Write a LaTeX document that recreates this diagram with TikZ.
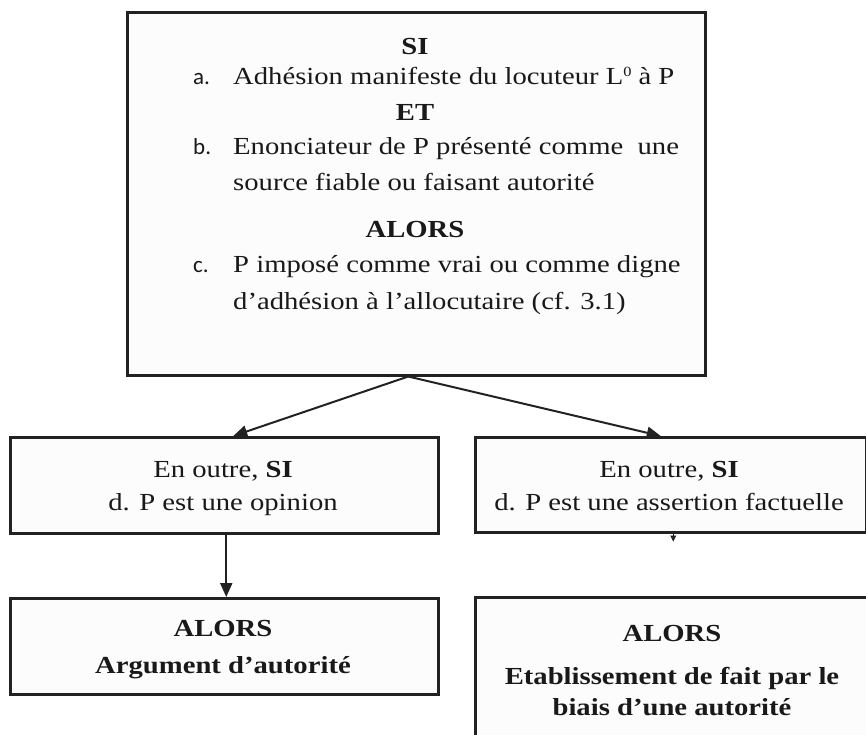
\documentclass[tikz,border=0pt]{standalone}
\usepackage{fontspec}
\setmainfont{Liberation Serif}[FakeStretch=1.17]
\newfontfamily\labfont{Carlito}
\usetikzlibrary{arrows.meta}
\definecolor{edge}{HTML}{222222}
\definecolor{boxfill}{HTML}{FCFCFC}
\newcommand{\supz}[1]{\raisebox{0.7ex}{\fontsize{14}{14}\selectfont #1}}
\begin{document}
\begin{tikzpicture}[x=1pt,y=-1pt,
  box/.style={draw=edge, line width=2.5pt, fill=boxfill, inner sep=0pt, anchor=north west},
  conn/.style={line width=2pt, draw=edge, -{Triangle[length=14pt,width=12pt]}},
  txt/.style={inner sep=0pt, anchor=base, text=black!90, font=\fontsize{24.5}{28}\selectfont},
  ltxt/.style={txt, anchor=base west},
  lab/.style={inner sep=0pt, anchor=base west, text=black!90, font=\labfont\fontsize{23}{28}\selectfont}]
\useasboundingbox (0,0) rectangle (866,734);
\clip (0,0) rectangle (866,734);

% boxes
\node[box, minimum width=578pt, minimum height=363pt] (top) at (126,11) {};
\node[box, minimum width=428pt, minimum height=96pt] (m1) at (9,436) {};
\node[box, minimum width=391pt, minimum height=95pt] (m2) at (474,436) {};
\node[box, minimum width=428pt, minimum height=96pt] (b1) at (9,597) {};
\node[box, minimum width=430pt, minimum height=200pt] (b2) at (474,596) {};

% top box text
\node[txt] (si) at (415,54) {\textbf{SI}};
\node[lab] (la) at (193,84) {a.};
\node[ltxt] (ta) at (233,84) {Adhésion manifeste du locuteur L\supz{0} à P};
\node[txt] (et) at (415,120) {\textbf{ET}};
\node[lab] (lb) at (193,154) {b.};
\node[ltxt] (tb) at (233,154) {Enonciateur de P présenté comme\ \ une};
\node[ltxt] (tb2) at (233,190) {source fiable ou faisant autorité};
\node[txt] (alors) at (415,237) {\textbf{ALORS}};
\node[lab] (lc) at (193,272) {c.};
\node[ltxt] (tc) at (233,272) {P imposé comme vrai ou comme digne};
\node[ltxt] (tc2) at (233,309) {d’adhésion à l’allocutaire (cf. 3.1)};

% middle boxes text
\node[txt] (m1a) at (223,477) {En outre, \textbf{SI}};
\node[txt] (m1b) at (223,510) {d. P est une opinion};
\node[txt] (m2a) at (669,477) {En outre, \textbf{SI}};
\node[txt] (m2b) at (669,510) {d. P est une assertion factuelle};

% bottom boxes text
\node[txt] (b1a) at (223,636) {\textbf{ALORS}};
\node[txt] (b1b) at (223,673) {\textbf{Argument d’autorité}};
\node[txt] (b2a) at (672,641) {\textbf{ALORS}};
\node[txt] (b2b) at (672,684) {\textbf{Etablissement de fait par le}};
\node[txt] (b2c) at (672,715) {\textbf{biais d’une autorité}};

% connectors
\draw[conn] ([xshift=-8pt]top.south) -- ([xshift=9pt]m1.north);
\draw[conn] ([xshift=-8pt]top.south) -- ([xshift=-10pt]m2.north);
\draw[conn] ([xshift=2pt]m1.south) -- ([xshift=2pt]b1.north);
\draw[line width=0.8pt, draw=edge, -{Triangle[length=6pt,width=6pt]}] ([xshift=2.5pt]m2.south) -- ++(0,8);
\end{tikzpicture}
\end{document}
